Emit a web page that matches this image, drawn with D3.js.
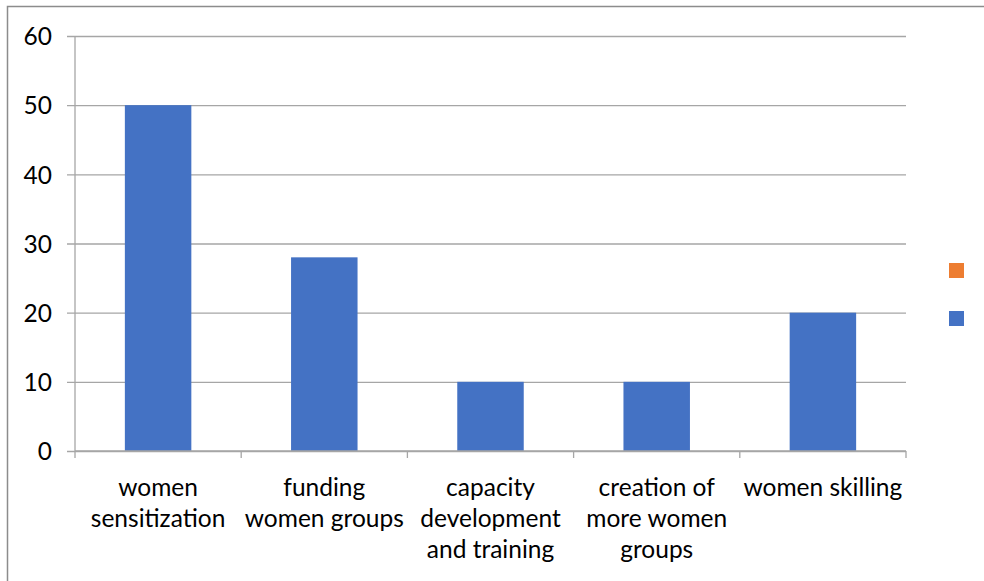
<!DOCTYPE html>
<html>
<head>
<meta charset="utf-8">
<script src="https://cdn.jsdelivr.net/npm/d3@7"></script>
<style>
  html, body { margin: 0; padding: 0; background: #fff; }
  svg { display: block; }
  text { font-family: Lato, "Open Sans", sans-serif; fill: #000; }
</style>
</head>
<body>
<svg id="chart" width="984" height="581"></svg>
<script>
// Category labels (line breaks as shown under the axis)
const categories = [
  "women\nsensitization",
  "funding\nwomen groups",
  "capacity\ndevelopment\nand training",
  "creation of\nmore women\ngroups",
  "women skilling"
];
// Bar values
const values = [50, 28, 10, 10, 20];
// Y axis ticks
const yTicks = [0, 10, 20, 30, 40, 50, 60];
// Legend swatches (entries carry no visible name)
const legendNames = ["", ""];
const legendColors = ["#ED7D31", "#4472C4"];

const svg = d3.select("#chart");
const W = 984, H = 581;
const plot = { left: 75, right: 906, top: 36, bottom: 451 };
const gridColor = "#a6a6a6";
const barColor = "#4472C4";
const fontSize = 24.5;

// Outer frame of the chart area
svg.append("rect")
  .attr("x", 7.5).attr("y", 6.5)
  .attr("width", W + 20).attr("height", H + 20)
  .attr("fill", "#fff")
  .attr("stroke", "#8c8c8c").attr("stroke-width", 1.5);

const x = d3.scaleBand().domain(categories).range([plot.left, plot.right]).padding(0);
const y = d3.scaleLinear().domain([0, 60]).range([plot.bottom, plot.top]);

// Horizontal gridlines with tick stubs and value labels
const yAxis = d3.axisLeft(y)
  .tickValues(yTicks)
  .tickSize(-(plot.right - plot.left) - 8)
  .tickPadding(15)
  .tickFormat(d3.format("d"));

const gy = svg.append("g")
  .attr("transform", `translate(${plot.right},0)`)
  .call(yAxis);
gy.select(".domain").remove();
gy.selectAll(".tick line")
  .attr("x1", 0)
  .attr("x2", -(plot.right - plot.left) - 8)
  .attr("stroke", gridColor).attr("stroke-width", 1.3);
gy.selectAll(".tick text")
  .attr("x", -(plot.right - plot.left) - 8 - 15)
  .attr("font-size", fontSize)
  .attr("text-anchor", "end")
  .attr("dy", "0.36em")
  .style("font-family", "Lato, 'Open Sans', sans-serif");

// Vertical value axis line
svg.append("line")
  .attr("x1", plot.left).attr("x2", plot.left)
  .attr("y1", plot.top).attr("y2", plot.bottom)
  .attr("stroke", gridColor).attr("stroke-width", 1.3);

// Bars
const barW = x.bandwidth() * 0.4;
svg.append("g").selectAll("rect")
  .data(values)
  .join("rect")
  .attr("x", (d, i) => x(categories[i]) + (x.bandwidth() - barW) / 2)
  .attr("y", d => y(d))
  .attr("width", barW)
  .attr("height", d => y(0) - y(d))
  .attr("fill", barColor);

// Category axis with tick marks at category boundaries
svg.append("line")
  .attr("x1", plot.left).attr("x2", plot.right)
  .attr("y1", plot.bottom).attr("y2", plot.bottom)
  .attr("stroke", gridColor).attr("stroke-width", 1.3);

const boundaries = categories.map(c => x(c)).concat([x(categories[categories.length - 1]) + x.bandwidth()]);
svg.append("g").selectAll("line")
  .data(boundaries)
  .join("line")
  .attr("x1", d => d).attr("x2", d => d)
  .attr("y1", plot.bottom).attr("y2", plot.bottom + 7)
  .attr("stroke", gridColor).attr("stroke-width", 1.3);

const labels = svg.append("g").selectAll("text")
  .data(categories)
  .join("text")
  .attr("x", d => x(d) + x.bandwidth() / 2)
  .attr("y", 496)
  .attr("text-anchor", "middle")
  .attr("font-size", fontSize);
labels.each(function(d) {
  const t = d3.select(this);
  d.split("\n").forEach((line, i) => {
    t.append("tspan")
      .attr("x", t.attr("x"))
      .attr("dy", i === 0 ? 0 : 31)
      .text(line);
  });
});

// Legend swatches
svg.append("g").selectAll("rect")
  .data(legendColors)
  .join("rect")
  .attr("x", 949)
  .attr("y", (d, i) => 263 + i * 48)
  .attr("width", 15).attr("height", 15)
  .attr("fill", d => d);
svg.append("g").selectAll("text")
  .data(legendNames)
  .join("text")
  .attr("x", 970)
  .attr("y", (d, i) => 276 + i * 48)
  .attr("font-size", fontSize)
  .text(d => d);
</script>
</body>
</html>
